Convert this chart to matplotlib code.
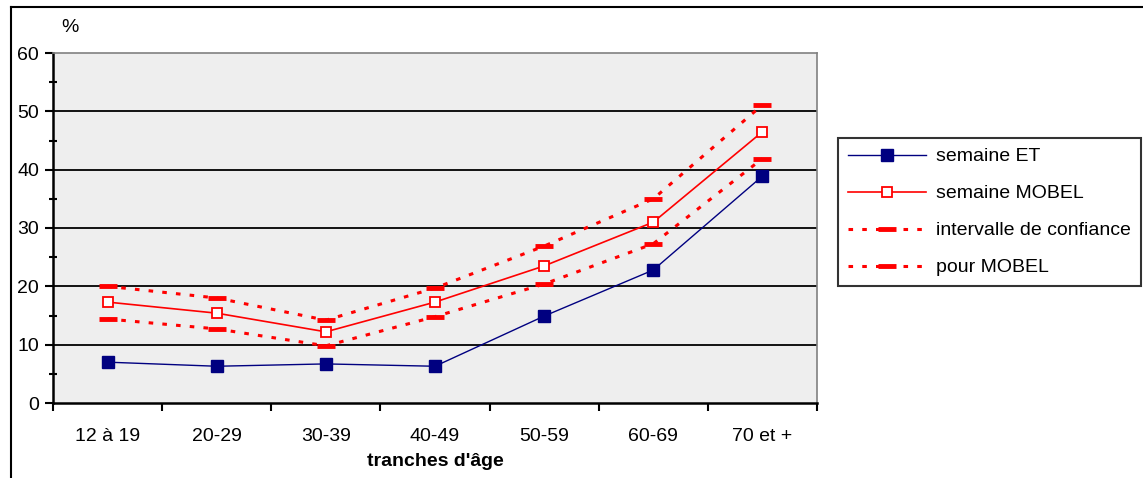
import matplotlib
matplotlib.use("Agg")
import matplotlib.pyplot as plt
from matplotlib.lines import Line2D
import numpy as np

categories = ["12 à 19", "20-29", "30-39", "40-49", "50-59", "60-69", "70 et +"]
semaine_et = [7.0, 6.3, 6.7, 6.3, 14.9, 22.8, 38.9]
semaine_mobel = [17.3, 15.4, 12.2, 17.3, 23.5, 31.0, 46.5]
ci_upper = [20.0, 18.0, 14.2, 19.7, 26.9, 35.0, 51.1]
ci_lower = [14.4, 12.7, 9.8, 14.8, 20.4, 27.3, 41.9]
yticks = [0, 10, 20, 30, 40, 50, 60]

plt.rcParams['font.family'] = ['Liberation Sans', 'DejaVu Sans']

W, H = 1143, 478
fig = plt.figure(figsize=(W / 100, H / 100), dpi=100)
ax = fig.add_axes([53 / W, 1 - 403 / H, (817 - 53) / W, (403 - 53) / H])
ax.set_facecolor('#EEEEEE')

x = np.arange(len(categories))

for v in yticks[1:-1]:
    ax.axhline(v, color='black', lw=1.3, zorder=1)

red = '#FF0000'
l_up, = ax.plot(x, ci_upper, color=red, lw=2.2, dashes=(1.5, 3), marker='_',
                ms=13, mew=3.5, zorder=3, label='intervalle de confiance')
l_lo, = ax.plot(x, ci_lower, color=red, lw=2.2, dashes=(1.5, 3), marker='_',
                ms=13, mew=3.5, zorder=3, label='pour MOBEL')
l_mob, = ax.plot(x, semaine_mobel, color=red, lw=1.2, marker='s', ms=7.5,
                 mfc='white', mec=red, mew=1.3, zorder=4, label='semaine MOBEL')
l_et, = ax.plot(x, semaine_et, color='#000080', lw=1.0, marker='s', ms=8.5,
                mfc='#000080', mec='#000080', zorder=4, label='semaine ET')

ax.set_xlim(-0.5, len(categories) - 0.5)
ax.set_ylim(0, 60)

fs = 14
ax.set_yticks(yticks)
ax.set_yticks(np.arange(5, 60, 10), minor=True)
ax.tick_params(axis='y', which='major', direction='out', length=6, width=1.5,
               labelsize=fs, pad=4)
ax.tick_params(axis='y', which='minor', direction='inout', length=6, width=1.5)

ax.set_xticks(np.arange(-0.5, len(categories), 1.0))
ax.set_xticklabels([])
ax.set_xticks(x, minor=True)
ax.set_xticklabels(categories, minor=True)
ax.tick_params(axis='x', which='major', direction='out', length=6, width=1.5)
ax.tick_params(axis='x', which='minor', length=0, labelsize=fs, pad=18)

for s in ['left', 'bottom']:
    ax.spines[s].set_linewidth(1.8)
    ax.spines[s].set_color('black')
for s in ['top', 'right']:
    ax.spines[s].set_linewidth(1.2)
    ax.spines[s].set_color('#808080')

ax.set_xlabel("tranches d'âge", fontsize=fs, fontweight='bold', labelpad=6)
fig.text(70 / W, 1 - 28 / H, '%', fontsize=fs, ha='center', va='center')

leg = fig.legend(handles=[l_et, l_mob, l_up, l_lo], loc='upper left',
                 bbox_to_anchor=(838 / W, 1 - 138 / H), borderaxespad=0,
                 fontsize=14, frameon=True, fancybox=False, numpoints=1,
                 handlelength=4.0, labelspacing=1.0, borderpad=0.5,
                 handletextpad=0.55)
leg.get_frame().set_edgecolor('black')
leg.get_frame().set_linewidth(1.5)

# outer border (top and left visible)
fig.add_artist(Line2D([11 / W, 11 / W], [0, 1 - 7 / H], transform=fig.transFigure,
                      color='black', lw=1.5))
fig.add_artist(Line2D([11 / W, 1], [1 - 7 / H, 1 - 7 / H], transform=fig.transFigure,
                      color='black', lw=1.5))

fig.savefig('out.png', dpi=100)
